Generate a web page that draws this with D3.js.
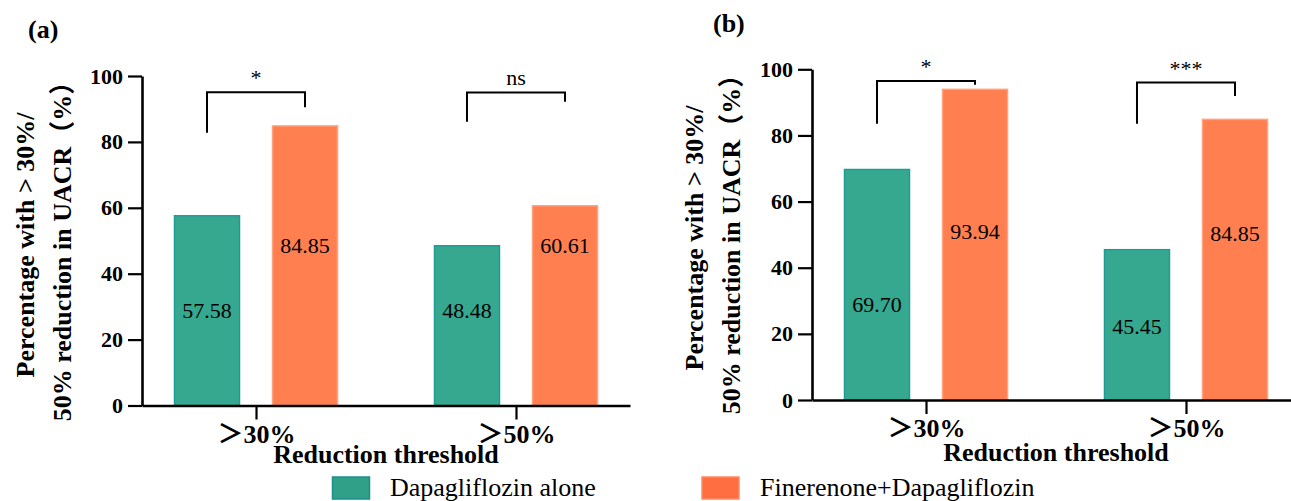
<!DOCTYPE html>
<html>
<head>
<meta charset="utf-8">
<script src="https://cdn.jsdelivr.net/npm/d3@7/dist/d3.min.js"></script>
<style>
  html, body { margin: 0; padding: 0; background: #fff; }
  svg { display: block; }
</style>
</head>
<body>
<svg id="chart" width="1291" height="501"></svg>
<script>
// ---------------- data ----------------
const categories = ["＞30%", "＞50%"];
const seriesNames = ["Dapagliflozin alone", "Finerenone+Dapagliflozin"];
const yTicks = [0, 20, 40, 60, 80, 100];

const dapaA = [57.58, 48.48];
const fineA = [84.85, 60.61];
const sigA = ["*", "ns"];

const dapaB = [69.70, 45.45];
const fineB = [93.94, 84.85];
const sigB = ["*", "***"];

// ---------------- style / layout ----------------
const FONT = '"Liberation Serif", "Times New Roman", "Noto Sans CJK SC", serif';
const colors = {
  fill: ["#35A88F", "#FF7F50"],
  stroke: ["#1F9C96", "#FFA27E"],
  legendFill: ["#30A088", "#FF6E40"],
  legendStroke: ["#1C8F8C", "#FF8A60"]
};

const panels = [
  {
    title: "(a)", titleX: 28, titleY: 38,
    x0: 142, x1: 630, yTop: 76, yBot: 405.5,
    ylab1X: 34, ylab2X: 71, ylabY: 245,
    series: [dapaA, fineA], sig: sigA,
    labelAt: [[28.7, 28.8], [48.7, 48.7]],
    bracket: [[82.8, 95.1, 90.5], [86.1, 95.0, 92.2]],
    xTitleY: 463
  },
  {
    title: "(b)", titleX: 713, titleY: 32,
    x0: 812, x1: 1300, yTop: 69.3, yBot: 400,
    ylab1X: 703, ylab2X: 740, ylabY: 238,
    series: [dapaB, fineB], sig: sigB,
    labelAt: [[28.9, 22.2], [51.0, 50.2]],
    bracket: [[83.5, 96.5, 95.3], [83.5, 96.0, 91.9]],
    xTitleY: 461
  }
];

const svg = d3.select("#chart").attr("font-family", FONT);

function txt(sel, size, bold) {
  return sel.attr("font-family", FONT).attr("font-size", size)
    .attr("font-weight", bold ? "bold" : "normal").attr("fill", "#000");
}

function drawPanel(p) {
  const g = svg.append("g");
  const y = d3.scaleLinear().domain([0, 100]).range([p.yBot, p.yTop]);
  const x = d3.scalePoint().domain(categories).range([p.x0, p.x1]).padding(0.4385);
  const sub = d3.scaleBand().domain(d3.range(seriesNames.length))
    .range([-81.5, 81.5]).paddingInner(0.337).paddingOuter(0);

  // bars
  p.series.forEach((vals, si) => {
    g.selectAll(null).data(vals).enter().append("rect")
      .attr("x", (d, i) => x(categories[i]) + sub(si))
      .attr("width", sub.bandwidth())
      .attr("y", d => y(d))
      .attr("height", d => y(0) - y(d))
      .attr("fill", colors.fill[si])
      .attr("stroke", colors.stroke[si])
      .attr("stroke-width", 1.5);
    txt(g.selectAll(null).data(vals).enter().append("text"), 22, false)
      .attr("x", (d, i) => x(categories[i]) + sub(si) + sub.bandwidth() / 2)
      .attr("y", (d, i) => y(p.labelAt[si][i]) + 7.5)
      .attr("text-anchor", "middle")
      .text(d => d.toFixed(2));
  });

  // significance brackets
  categories.forEach((c, i) => {
    const xl = x(c) + sub(0) + sub.bandwidth() / 2;
    const xr = x(c) + sub(1) + sub.bandwidth() / 2;
    const [lb, top, rb] = p.bracket[i];
    g.append("path")
      .attr("d", d3.line()([[xl, y(lb)], [xl, y(top)], [xr, y(top)], [xr, y(rb)]]))
      .attr("fill", "none").attr("stroke", "#000").attr("stroke-width", 2);
    txt(g.append("text"), 22, false)
      .attr("x", (xl + xr) / 2).attr("y", y(top) - 7)
      .attr("text-anchor", "middle")
      .text(p.sig[i]);
  });

  // y axis
  const ya = g.append("g").attr("transform", `translate(${p.x0},0)`)
    .call(d3.axisLeft(y).tickValues(yTicks).tickSize(14).tickSizeOuter(0).tickPadding(5));
  ya.attr("font-family", FONT).attr("font-size", 22).attr("font-weight", "bold");
  ya.select(".domain").attr("stroke-width", 2.6);
  ya.selectAll(".tick line").attr("stroke-width", 2.2);
  txt(ya.selectAll(".tick text"), 22, true);

  // x axis
  const xa = g.append("g").attr("transform", `translate(0,${p.yBot})`)
    .call(d3.axisBottom(x).tickSize(14).tickSizeOuter(0).tickPadding(5));
  xa.attr("font-family", FONT).attr("font-size", 26).attr("font-weight", "bold");
  xa.select(".domain").attr("stroke-width", 2.6);
  xa.selectAll(".tick line").attr("stroke-width", 2.2);
  txt(xa.selectAll(".tick text"), 26, true);

  // axis titles
  txt(g.append("text"), 26, true)
    .attr("x", (p.x0 + p.x1) / 2).attr("y", p.xTitleY)
    .attr("text-anchor", "middle")
    .text("Reduction threshold");

  txt(g.append("text"), 26, true)
    .attr("transform", `translate(${p.ylab1X},${p.ylabY}) rotate(-90)`)
    .attr("text-anchor", "middle")
    .text("Percentage with > 30%/");
  txt(g.append("text"), 26, true)
    .attr("transform", `translate(${p.ylab2X},${p.ylabY}) rotate(-90)`)
    .attr("text-anchor", "middle")
    .text("50% reduction in UACR（%）");

  // panel title
  txt(g.append("text"), 26, true)
    .attr("x", p.titleX).attr("y", p.titleY)
    .text(p.title);
}

panels.forEach(drawPanel);

// legend
const legendPos = [{ x: 332.5, tx: 390 }, { x: 702, tx: 760 }];
seriesNames.forEach((name, i) => {
  svg.append("rect")
    .attr("x", legendPos[i].x).attr("y", 477)
    .attr("width", 37).attr("height", 22)
    .attr("fill", colors.legendFill[i])
    .attr("stroke", colors.legendStroke[i]).attr("stroke-width", 1.5);
  txt(svg.append("text"), 26, false)
    .attr("x", legendPos[i].tx).attr("y", 496)
    .text(name);
});
</script>
</body>
</html>
